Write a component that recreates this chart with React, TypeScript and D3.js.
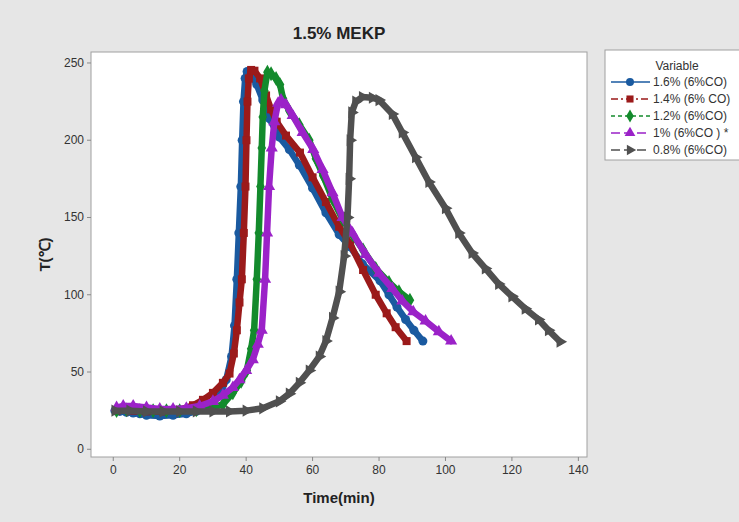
import React from "react";
import * as d3 from "d3";

const xTicks = [0, 20, 40, 60, 80, 100, 120, 140];
const yTicks = [0, 50, 100, 150, 200, 250];

const seriesNames = ["1.6% (6%CO)", "1.4% (6% CO)", "1.2% (6%CO)", "1% (6%CO ) *", "0.8% (6%CO)"];

const s16: [number, number][] = [
  [0.5, 25], [2, 24.5], [4, 24], [6, 23.5], [8, 23], [10, 22], [14, 21.5], [18, 22], [22, 23], [25, 24.5],
  [28, 27], [30, 30], [32, 35], [34, 45], [35.6, 60], [36.5, 80], [37.2, 110], [37.8, 140], [38.4, 170],
  [38.8, 200], [39.2, 225], [39.7, 240], [40.3, 244.5], [41.5, 242], [43.2, 236], [45, 226], [47, 214],
  [50, 202], [53, 194], [56, 184], [60, 169], [64, 153], [68, 139], [71.3, 131], [75, 120], [80.3, 109],
  [83, 100], [85.4, 92], [88, 84], [90.5, 77], [93.2, 70],
];

const s14: [number, number][] = [
  [1, 25], [3, 25.5], [6, 25], [10, 24.5], [15, 24.5], [20, 25.5], [24, 28.5], [27, 32], [30, 36.5],
  [33, 43], [35, 49], [36.3, 62], [37.2, 77], [38, 95], [38.7, 110], [39.3, 140], [39.8, 170], [40.1, 200],
  [40.4, 225], [40.8, 240], [41.5, 245.5], [42.5, 245], [44.2, 240], [46, 229], [47.5, 220], [49.2, 212],
  [52, 203], [56.2, 192], [60, 176], [64, 160], [68, 144], [71.3, 133], [75.2, 116], [79, 100], [82.3, 88],
  [85, 79], [88.3, 70],
];

const s12: [number, number][] = [
  [1, 25], [4, 25.5], [8, 25], [12, 25], [16, 25], [20, 25], [25, 25.5], [30, 27], [33, 29], [36, 36.5],
  [38.5, 44], [40.2, 51], [41.5, 65], [42.4, 77], [43.2, 110], [43.8, 140], [44.3, 170], [44.7, 195],
  [45, 215], [45.5, 232], [46.4, 244], [47.5, 243], [49, 240], [50.2, 236], [51.1, 227], [53, 219],
  [56, 210], [59, 200], [61, 188], [63.2, 177], [66, 162], [69, 149], [72, 139], [75.2, 129], [79, 117],
  [83, 108], [86, 102], [89.3, 96.5],
];

const s10: [number, number][] = [
  [1, 27], [3, 28], [6, 28], [10, 27], [14, 26], [18, 26], [22, 26.5], [26, 28], [30, 31], [33, 35],
  [36, 40], [38, 45], [40, 51], [42, 58], [43.5, 68], [44.7, 77], [45.7, 110], [46.3, 140], [46.9, 170],
  [47.7, 195], [48.5, 212], [49.6, 224], [50.5, 226], [52, 223], [54, 216], [57, 205], [60.2, 194],
  [63, 181], [66, 166], [69, 150], [72, 140], [76, 126], [80, 114], [84, 104], [87, 96], [90.3, 89],
  [94, 83], [98, 76], [101.7, 70],
];

const s08: [number, number][] = [
  [0.5, 25], [5, 25], [10, 24.5], [15, 24.5], [20, 24.5], [25, 24.5], [30, 24.5], [35, 24.5], [40, 25],
  [45, 26.5], [50, 31], [53, 36], [56, 43], [59, 51], [62, 60], [64, 70], [66, 85], [68, 102], [69.5, 125],
  [70.5, 150], [71, 175], [71.3, 200], [71.8, 218], [73, 225], [75, 228], [78, 227.5], [80, 226], [84, 217],
  [87, 205], [91, 189], [95, 173], [100, 156], [104, 140], [108, 127], [112, 117], [116, 107], [120, 99],
  [124, 91], [128, 84], [131, 77], [134.5, 69.6],
];

const seriesData = [s16, s14, s12, s10, s08];
const colors = ["#1a5aa0", "#9b1a1a", "#138a2c", "#9b22c8", "#505050"];
const dashes = ["none", "7,3,2,3", "4,3", "9,4", "9,4"];
const symbols = [d3.symbolCircle, d3.symbolSquare, d3.symbolDiamond, d3.symbolTriangle, d3.symbolTriangle];
const rotations = [0, 0, 0, 0, 90];

const W = 739;
const H = 522;
const plot = { left: 91, right: 587, top: 52, bottom: 457 };

export default function App() {
  const x = d3.scaleLinear().domain([-6.7, 142.6]).range([plot.left, plot.right]);
  const y = d3.scaleLinear().domain([-5.0, 257.1]).range([plot.bottom, plot.top]);
  const line = d3.line<[number, number]>().x((d) => x(d[0])).y((d) => y(d[1]));
  const font = "'Liberation Sans', Arial, sans-serif";
  const legendRows = [82, 99, 116, 133, 150];

  return (
    <svg width={W} height={H} style={{ position: "absolute", left: 0, top: 0 }} fontFamily={font}>
      <rect x={0} y={0} width={W} height={H} fill="#e6e6e6" />
      <rect x={plot.left} y={plot.top} width={plot.right - plot.left} height={plot.bottom - plot.top} fill="#ffffff" stroke="#a0a0a0" strokeWidth={1} />
      <text x={(plot.left + plot.right) / 2} y={39} textAnchor="middle" fontSize={17} fontWeight="bold" fill="#222">1.5% MEKP</text>

      {xTicks.map((t) => (
        <g key={"x" + t}>
          <line x1={x(t)} x2={x(t)} y1={plot.bottom} y2={plot.bottom + 4} stroke="#888" />
          <text x={x(t)} y={474} textAnchor="middle" fontSize={12} fill="#333">{t}</text>
        </g>
      ))}
      {yTicks.map((t) => (
        <g key={"y" + t}>
          <line x1={plot.left - 4} x2={plot.left} y1={y(t)} y2={y(t)} stroke="#888" />
          <text x={plot.left - 7} y={y(t) + 4} textAnchor="end" fontSize={12} fill="#333">{t}</text>
        </g>
      ))}
      <text x={(plot.left + plot.right) / 2} y={503} textAnchor="middle" fontSize={15} fontWeight="bold" fill="#222">Time(min)</text>
      <text transform={`translate(50,${(plot.top + plot.bottom) / 2}) rotate(-90)`} textAnchor="middle" fontSize={15} fontWeight="bold" fill="#222">T(℃)</text>

      <g>
        {seriesData.map((data, i) => (
          <g key={"s" + i}>
            <path d={line(data) || ""} fill="none" stroke={colors[i]} strokeWidth={6.5} strokeLinejoin="round" strokeLinecap="round" />
            {data.map((d, j) => (
              <path
                key={j}
                d={d3.symbol().type(symbols[i]).size(64)() || ""}
                transform={`translate(${x(d[0])},${y(d[1])}) rotate(${rotations[i]})`}
                fill={colors[i]}
              />
            ))}
          </g>
        ))}
      </g>

      <rect x={605} y={50} width={140} height={110} fill="#ffffff" stroke="#a0a0a0" />
      <text x={677} y={70} textAnchor="middle" fontSize={12} fill="#333">Variable</text>
      {seriesNames.map((n, i) => (
        <g key={"l" + i}>
          <line x1={611} x2={650} y1={legendRows[i]} y2={legendRows[i]} stroke={colors[i]} strokeWidth={1.3} strokeDasharray={dashes[i]} />
          <path d={d3.symbol().type(symbols[i]).size(50)() || ""} transform={`translate(630,${legendRows[i]}) rotate(${rotations[i]})`} fill={colors[i]} />
          <text x={653} y={legendRows[i] + 4} fontSize={12} fill="#333">{n}</text>
        </g>
      ))}
    </svg>
  );
}
